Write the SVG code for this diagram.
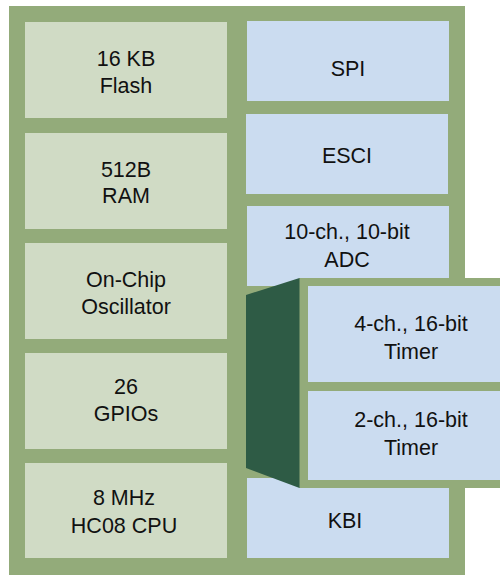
<svg xmlns="http://www.w3.org/2000/svg" width="500" height="575" viewBox="0 0 500 575">
<style>
.frame{fill:#93ab7a}
.mem{fill:#d0dbc5}
.per{fill:#cbdcf0}
.dark{fill:#2e5b45}
text{font-family:"Liberation Sans",Arial,sans-serif;font-size:21.5px;fill:#111;text-anchor:middle}
</style>
<rect class="frame" x="9" y="6" width="456" height="569"/>
<g id="flash"><rect class="mem" x="25" y="22" width="202" height="96"/><text x="126" y="66">16 KB</text><text x="126" y="92.5">Flash</text></g>
<g id="ram"><rect class="mem" x="25" y="133" width="202" height="96"/><text x="126" y="176.5">512B</text><text x="126" y="203">RAM</text></g>
<g id="osc"><rect class="mem" x="25" y="243" width="202" height="96"/><text x="126" y="287">On-Chip</text><text x="126" y="313.5">Oscillator</text></g>
<g id="gpio"><rect class="mem" x="25" y="353" width="202" height="96"/><text x="126" y="394">26</text><text x="126" y="420.5">GPIOs</text></g>
<g id="cpu"><rect class="mem" x="25" y="463" width="202" height="95"/><text x="124" y="505">8 MHz</text><text x="124" y="533">HC08 CPU</text></g>
<g id="spi"><rect class="per" x="247" y="21" width="202" height="80"/><text x="348" y="76">SPI</text></g>
<g id="esci"><rect class="per" x="246" y="114" width="202" height="80"/><text x="347" y="163">ESCI</text></g>
<g id="adc"><rect class="per" x="247" y="206" width="202" height="80"/><text x="347" y="239">10-ch., 10-bit</text><text x="347" y="266.5">ADC</text></g>
<g id="kbi"><rect class="per" x="247" y="478" width="202" height="80"/><text x="345" y="527.5">KBI</text></g>
<g id="timers">
<rect class="frame" x="299" y="278" width="201" height="210"/>
<polygon class="dark" points="246,295 299.5,278 299.5,488 246,468"/>
<g id="timer4"><rect class="per" x="308" y="286" width="192" height="96"/><text x="411" y="330.5">4-ch., 16-bit</text><text x="411" y="359">Timer</text></g>
<g id="timer2"><rect class="per" x="308" y="391" width="192" height="89"/><text x="411" y="427">2-ch., 16-bit</text><text x="411" y="455">Timer</text></g>
</g>
<g id="connectors"/>
</svg>
